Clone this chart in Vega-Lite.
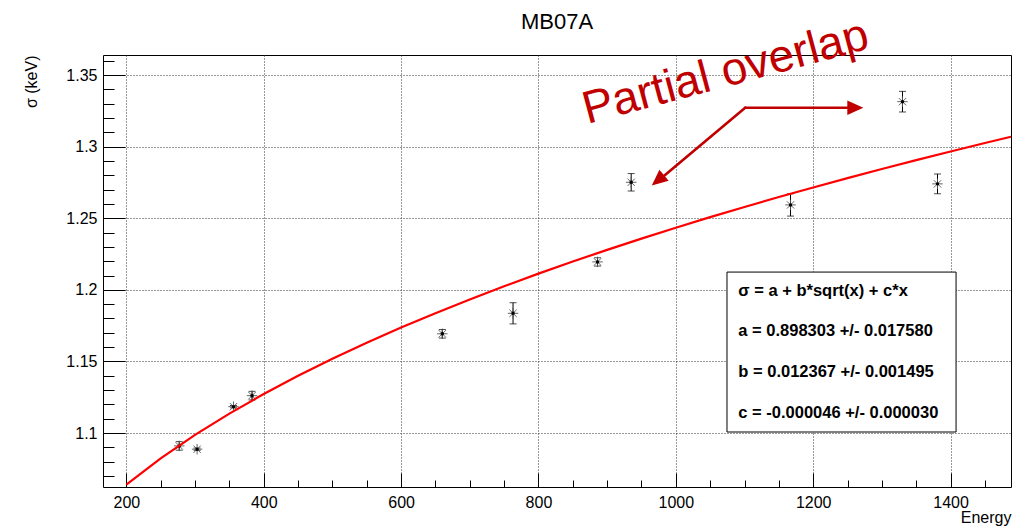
{
  "$schema": "https://vega.github.io/schema/vega-lite/v6.json",
  "width": 908,
  "height": 432,
  "autosize": {"type": "none"},
  "padding": {"left": 103, "top": 55, "right": 11, "bottom": 39},
  "background": "white",
  "config": {
    "view": {"stroke": "black", "strokeWidth": 1},
    "font": "Liberation Sans",
    "axis": {
      "labelFont": "Liberation Sans", "labelFontSize": 16, "labelColor": "black",
      "titleFont": "Liberation Sans", "titleFontSize": 16, "titleFontWeight": "normal", "titleColor": "black",
      "tickColor": "black", "tickWidth": 1, "domain": false, "grid": false
    }
  },
  "title": {
    "text": "MB07A", "font": "Liberation Sans", "fontSize": 22, "fontWeight": "normal", "color": "black",
    "anchor": "middle", "frame": "group", "baseline": "alphabetic", "offset": 0, "dy": 39
  },
  "datasets": {
    "points": [
      {"E": 277, "s": 1.0910, "lo": 1.0880, "hi": 1.0940},
      {"E": 303, "s": 1.0887, "lo": 1.0879, "hi": 1.0895},
      {"E": 356, "s": 1.1184, "lo": 1.1176, "hi": 1.1192},
      {"E": 383, "s": 1.1261, "lo": 1.1231, "hi": 1.1291},
      {"E": 660, "s": 1.1693, "lo": 1.1663, "hi": 1.1723},
      {"E": 763, "s": 1.1836, "lo": 1.1762, "hi": 1.1910},
      {"E": 886, "s": 1.2195, "lo": 1.2166, "hi": 1.2224},
      {"E": 935, "s": 1.2751, "lo": 1.2690, "hi": 1.2812},
      {"E": 1167, "s": 1.2593, "lo": 1.2515, "hi": 1.2671},
      {"E": 1330, "s": 1.3314, "lo": 1.3242, "hi": 1.3386},
      {"E": 1381, "s": 1.2740, "lo": 1.2671, "hi": 1.2809}
    ],
    "fit": [
      {"E": 200, "s": 1.064}, {"E": 250, "s": 1.08234}, {"E": 300, "s": 1.09871}, {"E": 350, "s": 1.11357},
      {"E": 400, "s": 1.12724}, {"E": 450, "s": 1.13995}, {"E": 500, "s": 1.15184}, {"E": 550, "s": 1.16304},
      {"E": 600, "s": 1.17363}, {"E": 650, "s": 1.1837}, {"E": 700, "s": 1.1933}, {"E": 750, "s": 1.20249},
      {"E": 800, "s": 1.2113}, {"E": 850, "s": 1.21976}, {"E": 900, "s": 1.22791}, {"E": 950, "s": 1.23578},
      {"E": 1000, "s": 1.24338}, {"E": 1050, "s": 1.25074}, {"E": 1100, "s": 1.25787}, {"E": 1150, "s": 1.26479},
      {"E": 1200, "s": 1.27151}, {"E": 1250, "s": 1.27804}, {"E": 1300, "s": 1.2844}, {"E": 1350, "s": 1.2906},
      {"E": 1400, "s": 1.29663}, {"E": 1450, "s": 1.30253}, {"E": 1488, "s": 1.30691}
    ],
    "box": [{"x": 1074.5, "x2": 1408, "y": 1.1007, "y2": 1.2124}],
    "boxtext": [{"x": 1091, "y": 1.196, "t": "σ = a + b*sqrt(x) + c*x\na = 0.898303 +/- 0.017580\nb = 0.012367 +/- 0.001495\nc = -0.000046 +/- 0.000030"}],
    "segments": [
      {"x": 1101, "y": 1.3272, "x2": 1254, "y2": 1.3272},
      {"x": 1101, "y": 1.3272, "x2": 980, "y2": 1.2785}
    ],
    "headR": [{"x": 1273, "y": 1.3272}],
    "headD": [{"x": 965, "y": 1.2728}],
    "note": [{"x": 871, "y": 1.3158, "t": "Partial overlap"}]
  },
  "layer": [
    {
      "data": {"name": "box"},
      "mark": {"type": "rect", "fill": "white", "stroke": "black", "strokeWidth": 1},
      "encoding": {
        "x": {"field": "x", "type": "quantitative", "scale": {"domain": [166, 1488], "nice": false, "zero": false},
              "axis": {"orient": "bottom", "values": [200, 400, 600, 800, 1000, 1200, 1400], "tickSize": -14, "labels": false, "title": null, "grid": false, "domain": false}},
        "x2": {"field": "x2"},
        "y": {"field": "y", "type": "quantitative", "scale": {"domain": [1.0623, 1.364], "nice": false, "zero": false},
              "axis": {"orient": "left", "values": [1.1, 1.15, 1.2, 1.25, 1.3, 1.35], "tickSize": -22, "labels": false, "title": null, "grid": false, "domain": false}},
        "y2": {"field": "y2"}
      }
    },
    {
      "data": {"name": "boxtext"},
      "mark": {"type": "text", "align": "left", "baseline": "alphabetic", "font": "Liberation Sans", "fontWeight": "bold", "fontSize": 16.5, "lineBreak": "\n", "lineHeight": 40.7, "color": "black"},
      "encoding": {
        "x": {"field": "x", "type": "quantitative", "scale": {"domain": [166, 1488], "nice": false, "zero": false},
              "axis": {"orient": "bottom", "values": [250, 300, 350, 450, 500, 550, 650, 700, 750, 850, 900, 950, 1050, 1100, 1150, 1250, 1300, 1350, 1450], "tickSize": -7, "labels": false, "title": null, "grid": false, "domain": false}},
        "y": {"field": "y", "type": "quantitative", "scale": {"domain": [1.0623, 1.364], "nice": false, "zero": false},
              "axis": {"orient": "left", "values": [1.07, 1.08, 1.09, 1.11, 1.12, 1.13, 1.14, 1.16, 1.17, 1.18, 1.19, 1.21, 1.22, 1.23, 1.24, 1.26, 1.27, 1.28, 1.29, 1.31, 1.32, 1.33, 1.34, 1.36], "tickSize": -11, "labels": false, "title": null, "grid": false, "domain": false}},
        "text": {"field": "t", "type": "nominal"}
      }
    },
    {
      "data": {"name": "points"},
      "mark": {"type": "rule", "color": "black", "strokeWidth": 1},
      "encoding": {
        "x": {"field": "E", "type": "quantitative", "scale": {"domain": [166, 1488], "nice": false, "zero": false}, "axis": null},
        "y": {"field": "lo", "type": "quantitative", "scale": {"domain": [1.0623, 1.364], "nice": false, "zero": false}, "axis": null},
        "y2": {"field": "hi"}
      }
    },
    {
      "data": {"name": "points"},
      "mark": {"type": "tick", "orient": "horizontal", "color": "black", "size": 7, "thickness": 1},
      "encoding": {
        "x": {"field": "E", "type": "quantitative", "scale": {"domain": [166, 1488], "nice": false, "zero": false}, "axis": null},
        "y": {"field": "lo", "type": "quantitative", "scale": {"domain": [1.0623, 1.364], "nice": false, "zero": false}, "axis": null}
      }
    },
    {
      "data": {"name": "points"},
      "mark": {"type": "tick", "orient": "horizontal", "color": "black", "size": 7, "thickness": 1},
      "encoding": {
        "x": {"field": "E", "type": "quantitative", "scale": {"domain": [166, 1488], "nice": false, "zero": false}, "axis": null},
        "y": {"field": "hi", "type": "quantitative", "scale": {"domain": [1.0623, 1.364], "nice": false, "zero": false}, "axis": null}
      }
    },
    {
      "data": {"name": "points"},
      "mark": {"type": "point", "shape": "M-1,0L1,0M0,-1L0,1M-0.7,-0.7L0.7,0.7M-0.7,0.7L0.7,-0.7", "filled": false, "stroke": "#555555", "strokeWidth": 0.9, "size": 110, "opacity": 1},
      "encoding": {
        "x": {"field": "E", "type": "quantitative", "scale": {"domain": [166, 1488], "nice": false, "zero": false}, "axis": null},
        "y": {"field": "s", "type": "quantitative", "scale": {"domain": [1.0623, 1.364], "nice": false, "zero": false}, "axis": null}
      }
    },
    {
      "data": {"name": "points"},
      "mark": {"type": "point", "shape": "circle", "filled": true, "color": "black", "size": 12, "opacity": 1},
      "encoding": {
        "x": {"field": "E", "type": "quantitative", "scale": {"domain": [166, 1488], "nice": false, "zero": false}, "axis": null},
        "y": {"field": "s", "type": "quantitative", "scale": {"domain": [1.0623, 1.364], "nice": false, "zero": false}, "axis": null}
      }
    },
    {
      "data": {"name": "fit"},
      "mark": {"type": "line", "color": "#ff0000", "strokeWidth": 2.2},
      "encoding": {
        "x": {"field": "E", "type": "quantitative", "scale": {"domain": [166, 1488], "nice": false, "zero": false},
              "axis": {"orient": "bottom", "values": [200, 400, 600, 800, 1000, 1200, 1400], "format": "d", "tickSize": 0, "ticks": false, "labelPadding": 7, "grid": true, "gridColor": "#333333", "gridDash": [1, 2], "gridWidth": 1, "gridOpacity": 1, "domain": false,
                       "title": "Energy", "titleX": 908, "titleY": 35, "titleAlign": "right", "titleBaseline": "alphabetic", "titleAngle": 0}},
        "y": {"field": "s", "type": "quantitative", "scale": {"domain": [1.0623, 1.364], "nice": false, "zero": false},
              "axis": {"orient": "left", "values": [1.1, 1.15, 1.2, 1.25, 1.3, 1.35], "format": ".2~f", "tickSize": 0, "ticks": false, "labelPadding": 6, "grid": true, "gridColor": "#333333", "gridDash": [1, 2], "gridWidth": 1, "gridOpacity": 1, "domain": false,
                       "title": "σ (keV)", "titleX": -67, "titleY": 0, "titleAlign": "right", "titleBaseline": "alphabetic", "titleAngle": 270}}
      }
    },
    {
      "data": {"name": "segments"},
      "mark": {"type": "rule", "color": "#c00000", "strokeWidth": 2.6, "strokeCap": "round"},
      "encoding": {
        "x": {"field": "x", "type": "quantitative", "scale": {"domain": [166, 1488], "nice": false, "zero": false}, "axis": null},
        "y": {"field": "y", "type": "quantitative", "scale": {"domain": [1.0623, 1.364], "nice": false, "zero": false}, "axis": null},
        "x2": {"field": "x2"},
        "y2": {"field": "y2"}
      }
    },
    {
      "data": {"name": "headR"},
      "mark": {"type": "point", "shape": "M0,0L-0.9,2L0.9,2Z", "filled": true, "color": "#c00000", "size": 256, "angle": 90, "opacity": 1},
      "encoding": {
        "x": {"field": "x", "type": "quantitative", "scale": {"domain": [166, 1488], "nice": false, "zero": false}, "axis": null},
        "y": {"field": "y", "type": "quantitative", "scale": {"domain": [1.0623, 1.364], "nice": false, "zero": false}, "axis": null}
      }
    },
    {
      "data": {"name": "headD"},
      "mark": {"type": "point", "shape": "M0,0L-0.9,2L0.9,2Z", "filled": true, "color": "#c00000", "size": 256, "angle": 230, "opacity": 1},
      "encoding": {
        "x": {"field": "x", "type": "quantitative", "scale": {"domain": [166, 1488], "nice": false, "zero": false}, "axis": null},
        "y": {"field": "y", "type": "quantitative", "scale": {"domain": [1.0623, 1.364], "nice": false, "zero": false}, "axis": null}
      }
    },
    {
      "data": {"name": "note"},
      "mark": {"type": "text", "align": "left", "baseline": "alphabetic", "angle": -15, "font": "Liberation Sans", "fontSize": 46, "color": "#c00000"},
      "encoding": {
        "x": {"field": "x", "type": "quantitative", "scale": {"domain": [166, 1488], "nice": false, "zero": false}, "axis": null},
        "y": {"field": "y", "type": "quantitative", "scale": {"domain": [1.0623, 1.364], "nice": false, "zero": false}, "axis": null},
        "text": {"field": "t", "type": "nominal"}
      }
    }
  ],
  "resolve": {"axis": {"x": "independent", "y": "independent"}}
}
